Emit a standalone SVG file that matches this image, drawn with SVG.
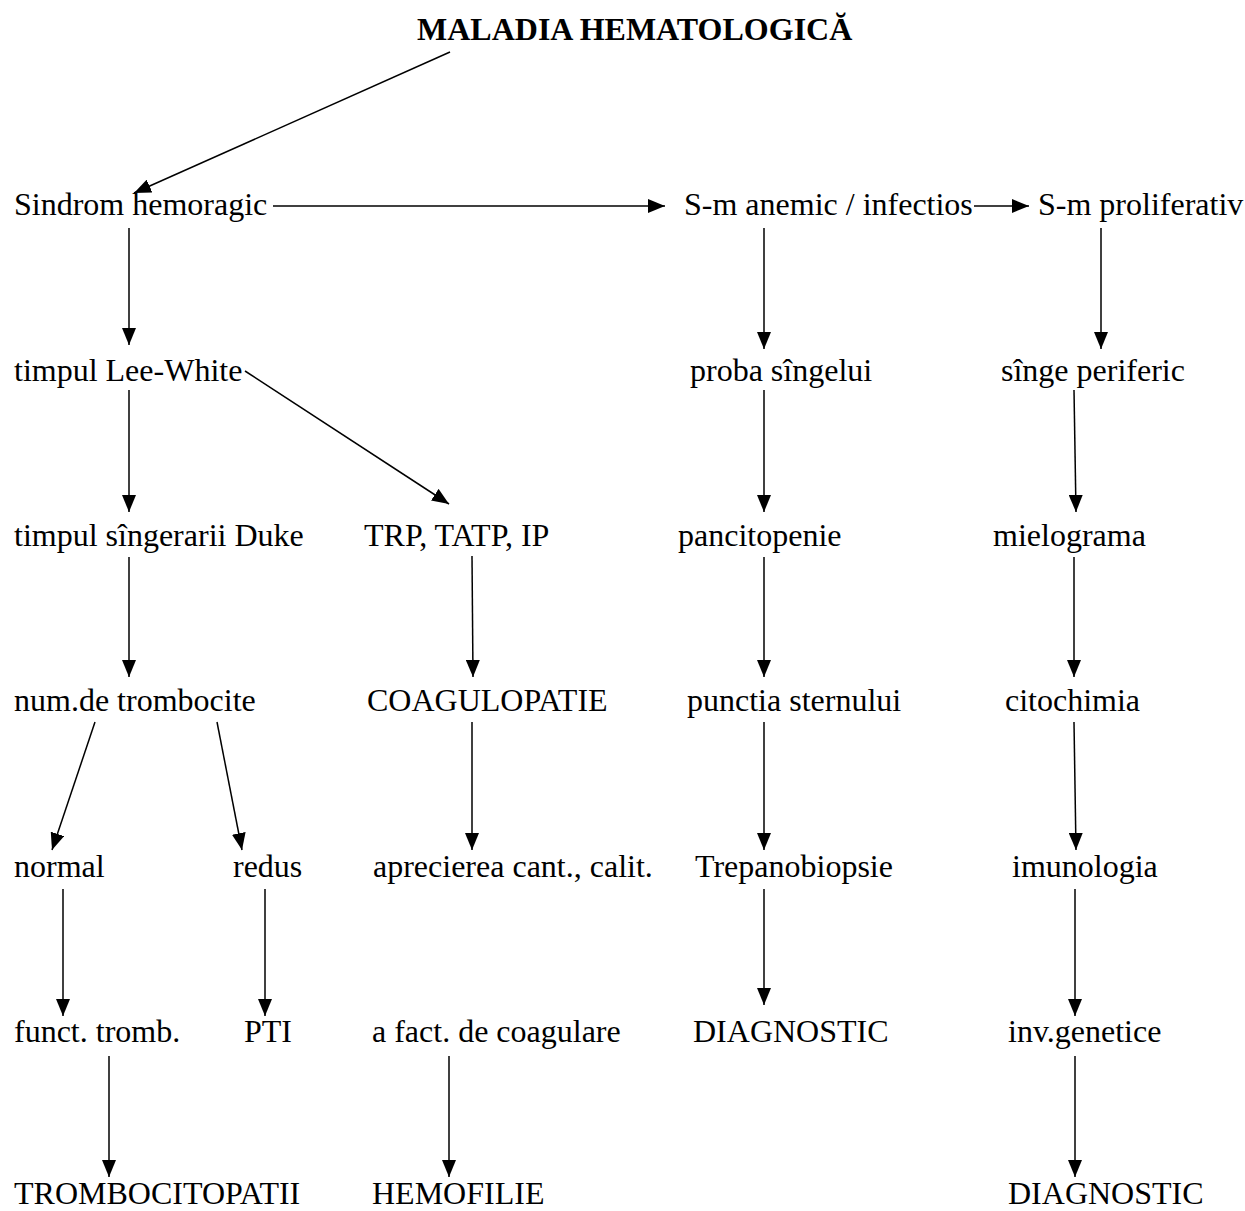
<svg xmlns="http://www.w3.org/2000/svg" width="1245" height="1211" viewBox="0 0 1245 1211">
<style>
text { font-family: "Liberation Serif", "Times New Roman", serif; font-size: 32px; fill: #000; }
.title { font-weight: bold; }
.c line { stroke: #000; stroke-width: 1.5; marker-end: url(#ah); }
</style>
<defs>
<marker id="ah" markerUnits="userSpaceOnUse" markerWidth="18" markerHeight="14" refX="17" refY="7" orient="auto">
<path d="M0,0 L17,7 L0,14 z" fill="#000"/>
</marker>
</defs>
<rect width="1245" height="1211" fill="#fff"/>
<g id="n-title"><text class="title" x="417" y="40">MALADIA HEMATOLOGICĂ</text></g>
<g id="n-sindrom"><text x="14" y="215">Sindrom hemoragic</text></g>
<g id="n-anemic"><text x="684" y="215">S-m anemic / infectios</text></g>
<g id="n-prolif"><text x="1038" y="215">S-m proliferativ</text></g>
<g id="n-leewhite"><text x="14" y="381">timpul Lee-White</text></g>
<g id="n-proba"><text x="690" y="381">proba sîngelui</text></g>
<g id="n-singe"><text x="1001" y="381">sînge periferic</text></g>
<g id="n-duke"><text x="14" y="546">timpul sîngerarii Duke</text></g>
<g id="n-trp"><text x="364" y="546">TRP, TATP, IP</text></g>
<g id="n-pancito"><text x="678" y="546">pancitopenie</text></g>
<g id="n-mielo"><text x="993" y="546">mielograma</text></g>
<g id="n-num"><text x="14" y="711">num.de trombocite</text></g>
<g id="n-coag"><text x="367" y="711">COAGULOPATIE</text></g>
<g id="n-punctia"><text x="687" y="711">punctia sternului</text></g>
<g id="n-citochimia"><text x="1005" y="711">citochimia</text></g>
<g id="n-normal"><text x="14" y="877">normal</text></g>
<g id="n-redus"><text x="233" y="877">redus</text></g>
<g id="n-aprecierea"><text x="373" y="877">aprecierea cant., calit.</text></g>
<g id="n-trepano"><text x="695" y="877">Trepanobiopsie</text></g>
<g id="n-imuno"><text x="1012" y="877">imunologia</text></g>
<g id="n-funct"><text x="14" y="1042">funct. tromb.</text></g>
<g id="n-pti"><text x="244" y="1042">PTI</text></g>
<g id="n-afact"><text x="372" y="1042">a fact. de coagulare</text></g>
<g id="n-diag1"><text x="693" y="1042">DIAGNOSTIC</text></g>
<g id="n-inv"><text x="1008" y="1042">inv.genetice</text></g>
<g id="n-trombo"><text x="14" y="1204">TROMBOCITOPATII</text></g>
<g id="n-hemofilie"><text x="372" y="1204">HEMOFILIE</text></g>
<g id="n-diag2"><text x="1008" y="1204">DIAGNOSTIC</text></g>
<g id="connectors" class="c">
<line x1="450" y1="52" x2="134" y2="193"/>
<line x1="273" y1="206" x2="665" y2="206"/>
<line x1="974" y1="206" x2="1029" y2="206"/>
<line x1="129" y1="228" x2="129" y2="345"/>
<line x1="764" y1="228" x2="764" y2="349"/>
<line x1="1101" y1="228" x2="1101" y2="349"/>
<line x1="129" y1="390" x2="129" y2="512"/>
<line x1="245" y1="371" x2="449" y2="504"/>
<line x1="764" y1="390" x2="764" y2="512"/>
<line x1="1074" y1="390" x2="1076" y2="512"/>
<line x1="129" y1="557" x2="129" y2="677"/>
<line x1="472" y1="556" x2="473" y2="677"/>
<line x1="764" y1="557" x2="764" y2="677"/>
<line x1="1074" y1="557" x2="1074" y2="677"/>
<line x1="95" y1="722" x2="52" y2="850"/>
<line x1="217" y1="722" x2="242" y2="850"/>
<line x1="472" y1="722" x2="472" y2="850"/>
<line x1="764" y1="722" x2="764" y2="850"/>
<line x1="1074" y1="722" x2="1076" y2="850"/>
<line x1="63" y1="889" x2="63" y2="1016"/>
<line x1="265" y1="889" x2="265" y2="1016"/>
<line x1="764" y1="889" x2="764" y2="1005"/>
<line x1="1075" y1="889" x2="1075" y2="1016"/>
<line x1="109" y1="1056" x2="109" y2="1177"/>
<line x1="449" y1="1056" x2="449" y2="1177"/>
<line x1="1075" y1="1056" x2="1075" y2="1177"/>
</g>
</svg>
